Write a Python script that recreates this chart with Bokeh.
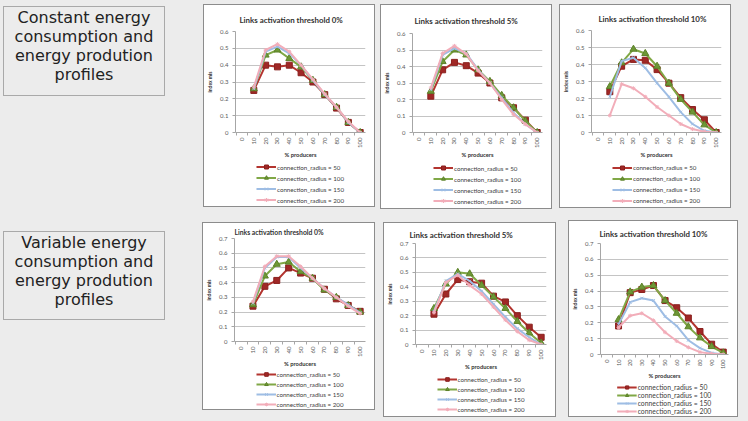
from math import pi
from bokeh.plotting import figure
from bokeh.models import (Div, Spacer, Legend, LegendItem, FixedTicker, Range1d,
                          CustomJSTickFormatter)
from bokeh.layouts import row, column
from bokeh.embed import file_html
from bokeh.resources import INLINE

# ---------------- data ----------------
producers = [10, 20, 30, 40, 50, 60, 70, 80, 90, 100]
x_categories = [0, 10, 20, 30, 40, 50, 60, 70, 80, 90, 100]
x_between = [-5, 5, 15, 25, 35, 45, 55, 65, 75, 85, 95, 105]
radius_labels = ["connection_radius = 50", "connection_radius = 100",
                 "connection_radius = 150", "connection_radius = 200"]
y_ticks_top = [0, 0.1, 0.2, 0.3, 0.4, 0.5, 0.6]
y_ticks_bottom = [0, 0.1, 0.2, 0.3, 0.4, 0.5, 0.6, 0.7]
chart_titles = ["Links activation threshold 0%", "Links activation threshold 5%",
                "Links activation threshold 10%"]
row_label_constant = ["Constant energy", "consumption and", "energy prodution", "profiles"]
row_label_variable = ["Variable energy", "consumption and", "energy prodution", "profiles"]

# constant profiles
c0_r50 = [0.25, 0.40, 0.39, 0.40, 0.355, 0.30, 0.225, 0.145, 0.06, 0.0]
c0_r100 = [0.26, 0.46, 0.49, 0.44, 0.39, 0.31, 0.225, 0.15, 0.06, 0.0]
c0_r150 = [0.26, 0.48, 0.51, 0.47, 0.40, 0.31, 0.225, 0.15, 0.06, 0.0]
c0_r200 = [0.27, 0.49, 0.525, 0.48, 0.40, 0.315, 0.23, 0.15, 0.065, 0.0]

c5_r50 = [0.22, 0.38, 0.425, 0.405, 0.36, 0.30, 0.21, 0.15, 0.075, 0.0]
c5_r100 = [0.25, 0.43, 0.50, 0.47, 0.38, 0.31, 0.225, 0.15, 0.07, 0.0]
c5_r150 = [0.26, 0.47, 0.51, 0.48, 0.38, 0.30, 0.21, 0.12, 0.05, 0.0]
c5_r200 = [0.27, 0.48, 0.525, 0.475, 0.375, 0.30, 0.20, 0.11, 0.05, 0.0]

c10_r50 = [0.24, 0.39, 0.43, 0.425, 0.37, 0.29, 0.205, 0.135, 0.075, 0.0]
c10_r100 = [0.27, 0.41, 0.49, 0.465, 0.39, 0.29, 0.195, 0.12, 0.045, 0.0]
c10_r150 = [0.21, 0.42, 0.44, 0.38, 0.29, 0.21, 0.12, 0.05, 0.01, 0.0]
c10_r200 = [0.10, 0.285, 0.26, 0.21, 0.15, 0.10, 0.05, 0.02, 0.005, 0.0]

# variable profiles
v0_r50 = [0.24, 0.375, 0.415, 0.50, 0.465, 0.43, 0.355, 0.29, 0.245, 0.205]
v0_r100 = [0.25, 0.445, 0.525, 0.54, 0.475, 0.43, 0.35, 0.30, 0.245, 0.20]
v0_r150 = [0.26, 0.50, 0.575, 0.575, 0.50, 0.43, 0.36, 0.30, 0.25, 0.195]
v0_r200 = [0.27, 0.51, 0.58, 0.58, 0.51, 0.43, 0.36, 0.30, 0.24, 0.19]

v5_r50 = [0.21, 0.35, 0.45, 0.435, 0.425, 0.335, 0.295, 0.20, 0.12, 0.05]
v5_r100 = [0.25, 0.42, 0.50, 0.49, 0.41, 0.33, 0.25, 0.16, 0.08, 0.01]
v5_r150 = [0.23, 0.44, 0.49, 0.44, 0.37, 0.28, 0.19, 0.11, 0.05, 0.0]
v5_r200 = [0.22, 0.43, 0.48, 0.41, 0.35, 0.26, 0.17, 0.09, 0.03, 0.0]

v10_r50 = [0.18, 0.39, 0.41, 0.435, 0.34, 0.295, 0.23, 0.145, 0.065, 0.015]
v10_r100 = [0.22, 0.395, 0.425, 0.435, 0.34, 0.26, 0.175, 0.105, 0.05, 0.01]
v10_r150 = [0.19, 0.33, 0.355, 0.34, 0.24, 0.18, 0.09, 0.04, 0.01, 0.0]
v10_r200 = [0.17, 0.245, 0.26, 0.215, 0.14, 0.085, 0.045, 0.015, 0.005, 0.0]

# ---------------- styles ----------------
STYLE = [
    dict(line="#b3342f", marker="square", fill="#a02826", mline="#8a201e", size=6),
    dict(line="#80a846", marker="triangle", fill="#6e9836", mline="#5c8229", size=7),
    dict(line="#9ebde4", marker="x", fill="#9ebde4", mline="#9ebde4", size=4),
    dict(line="#f2adb9", marker="asterisk", fill="#f2adb9", mline="#f2adb9", size=4),
]
BG = "#ececec"
FONT = "Lato"


def make_chart(title, ymax, yticks, series, w, h, L, standoff, leg_row,
               title_offset, title_size="7.9px", xfont="6px", leg_font="6.2px",
               leg_spacing=1):
    p = figure(width=w - 2, height=h - 2 - L, x_range=Range1d(-5.5, 104.5),
               y_range=Range1d(0, ymax), output_backend="svg", toolbar_location=None,
               background_fill_color="white", border_fill_color="white",
               outline_line_color=None, min_border_left=30, min_border_right=9)
    p.title.text = title
    p.title.align = "left"
    p.title.offset = title_offset
    p.title.text_font = FONT
    p.title.text_font_size = title_size
    p.title.text_font_style = "bold"
    p.title.text_color = "#333333"
    p.title.standoff = standoff

    xa = p.xaxis[0]
    xa.ticker = FixedTicker(ticks=x_categories, minor_ticks=x_between)
    xa.major_label_orientation = pi / 2
    xa.major_label_text_font = FONT
    xa.major_label_text_font_size = xfont
    xa.major_label_text_color = "#595959"
    xa.major_label_standoff = 2
    xa.major_tick_line_color = None
    xa.major_tick_in = 0
    xa.major_tick_out = 3
    xa.minor_tick_in = 0
    xa.minor_tick_out = 3
    xa.minor_tick_line_color = "#a6a6a6"
    xa.axis_line_color = "#a6a6a6"
    xa.axis_label = "% producers"
    xa.axis_label_text_font = FONT
    xa.axis_label_text_font_size = "5.8px"
    xa.axis_label_text_font_style = "bold"
    xa.axis_label_text_color = "#333333"
    xa.axis_label_standoff = 0

    ya = p.yaxis[0]
    ya.ticker = FixedTicker(ticks=yticks)
    ya.formatter = CustomJSTickFormatter(code="return tick.toFixed(1).replace(/\\.0$/, '');")
    ya.major_label_text_font = FONT
    ya.major_label_text_font_size = "6px"
    ya.major_label_text_color = "#595959"
    ya.major_label_standoff = 4
    ya.major_tick_in = 0
    ya.major_tick_out = 3
    ya.major_tick_line_color = "#a6a6a6"
    ya.minor_tick_line_color = None
    ya.axis_line_color = "#a6a6a6"
    ya.axis_label = "index mis"
    ya.axis_label_text_font = FONT
    ya.axis_label_text_font_size = "5px"
    ya.axis_label_text_font_style = "bold"
    ya.axis_label_text_color = "#333333"
    ya.axis_label_standoff = 4

    p.xgrid.grid_line_color = None
    p.ygrid.ticker = FixedTicker(ticks=yticks)
    p.ygrid.grid_line_color = "#c4c4c4"

    for i, vals in enumerate(series):
        st = STYLE[i]
        p.line(producers, vals, line_color=st["line"], line_width=2)
        p.scatter(producers, vals, marker=st["marker"], size=st["size"],
                  fill_color=st["fill"], line_color=st["mline"], line_width=1)

    # legend strip under the chart; its renderers only carry the series styles
    # (their points lie outside the strip's ranges, so only the legend shows them)
    lg = figure(width=w - 2, height=L, x_range=Range1d(0, 1), y_range=Range1d(0, 1),
                x_axis_type=None, y_axis_type=None, output_backend="svg",
                toolbar_location=None, min_border=0, min_border_left=12,
                outline_line_color=None, background_fill_color="white",
                border_fill_color="white")
    lg.xgrid.visible = False
    lg.ygrid.visible = False
    items = []
    for i in range(len(series)):
        st = STYLE[i]
        ln = lg.line([5, 6], [5, 6], line_color=st["line"], line_width=2)
        sc = lg.scatter([5], [5], marker=st["marker"], size=st["size"] - 1,
                        fill_color=st["fill"], line_color=st["mline"], line_width=1)
        items.append(LegendItem(label=radius_labels[i], renderers=[ln, sc]))
    leg = Legend(items=items, location="center", orientation="vertical",
                 label_text_font=FONT, label_text_font_size=leg_font,
                 label_text_color="#404040", glyph_width=20, glyph_height=leg_row,
                 label_height=leg_row, spacing=leg_spacing, padding=0, margin=0,
                 border_line_color=None, background_fill_alpha=0, label_standoff=1)
    lg.add_layout(leg)
    return column(p, lg, styles={"border": "1px solid #8c8c8c",
                                 "background-color": "white"})


def label_box(lines, w, h, pad_bottom, extra=""):
    txt = "<br>".join(lines)
    html = (extra +
            f'<div style="box-sizing:border-box;width:{w}px;height:{h}px;'
            f'border:1px solid #a9a9a9;display:flex;align-items:center;'
            f'justify-content:center;text-align:center;font-family:\'DejaVu Sans\';'
            f'font-size:16px;line-height:19px;color:#222222;'
            f'padding-bottom:{pad_bottom}px;background:{BG}">{txt}</div>')
    return Div(text=html, width=w, height=h, margin=0)


bg_html = (f'<div style="position:fixed;left:0;top:0;width:100vw;height:100vh;'
           f'background:{BG};z-index:-1"></div>'
           '<div style="position:fixed;left:5px;top:-10px;width:733px;height:12px;'
           'border:1px solid #a9a9a9;z-index:-1"></div>')

c1 = make_chart(chart_titles[0], 0.6, y_ticks_top, [c0_r50, c0_r100, c0_r150, c0_r200],
                172, 203, 46, 14, 10, title_offset=4)
c2 = make_chart(chart_titles[1], 0.6, y_ticks_top, [c5_r50, c5_r100, c5_r150, c5_r200],
                172, 205, 48, 16, 10, title_offset=2)
c3 = make_chart(chart_titles[2], 0.6, y_ticks_top, [c10_r50, c10_r100, c10_r150, c10_r200],
                172, 204, 47, 13, 10, title_offset=7)
c4 = make_chart(chart_titles[0], 0.7, y_ticks_bottom, [v0_r50, v0_r100, v0_r150, v0_r200],
                173, 188, 40, 5, 9, title_offset=0, title_size="6.8px")
c5 = make_chart(chart_titles[1], 0.7, y_ticks_bottom, [v5_r50, v5_r100, v5_r150, v5_r200],
                173, 195, 44, 8, 9, title_offset=-6)
c6 = make_chart(chart_titles[2], 0.7, y_ticks_bottom, [v10_r50, v10_r100, v10_r150, v10_r200],
                170, 197, 34, 10, 8, title_offset=-1, xfont="5.5px", leg_font="6.8px",
                leg_spacing=0)

lab1 = label_box(row_label_constant, 162, 90, 10, extra=bg_html)
lab2 = label_box(row_label_variable, 162, 89, 10)

row1 = row(Spacer(width=3, height=1),
           column(Spacer(width=162, height=6), lab1), Spacer(width=38, height=1),
           column(Spacer(width=172, height=4), c1), Spacer(width=5, height=1),
           column(Spacer(width=172, height=4), c2), Spacer(width=7, height=1),
           column(Spacer(width=172, height=4), c3))
row2 = row(Spacer(width=3, height=1),
           column(Spacer(width=162, height=22), lab2), Spacer(width=37, height=1),
           column(Spacer(width=173, height=13), c4), Spacer(width=8, height=1),
           column(Spacer(width=173, height=13), c5), Spacer(width=12, height=1),
           column(Spacer(width=170, height=11), c6))
layout = column(row1, row2, styles={"background-color": BG})

open("out.html", "w").write(file_html(layout, INLINE))
